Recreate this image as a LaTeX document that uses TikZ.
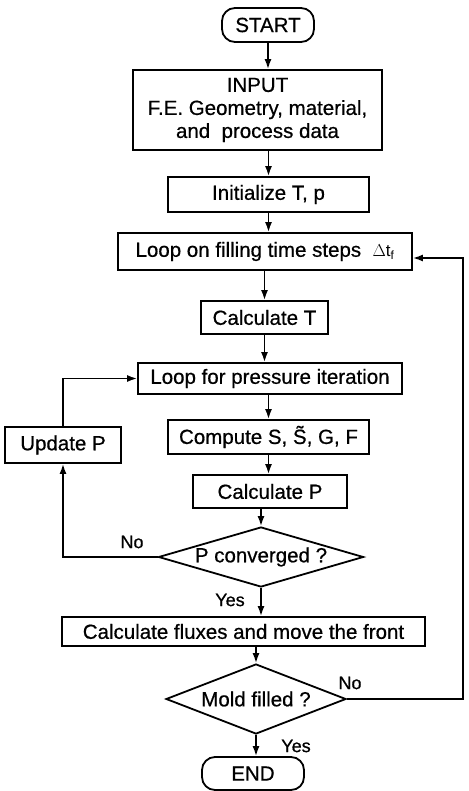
\documentclass[tikz,border=0pt]{standalone}
\usepackage{fontspec}
\setmainfont{Liberation Sans}[BoldFont=Liberation Sans, BoldFeatures={FakeBold=0.6}]
\usetikzlibrary{shapes.geometric,arrows.meta}
\begin{document}
\begin{tikzpicture}[x=1pt,y=-1pt,
  font=\fontsize{20.5}{23}\selectfont\bfseries,
  box/.style={draw, line width=1.8pt, rectangle, inner sep=0pt, align=center},
  term/.style={box, rounded corners=13pt},
  dec/.style={draw, line width=1.8pt, diamond, inner sep=0pt},
  arr/.style={line width=1.6pt, -{Latex[length=10pt,width=7pt]}},
  lab/.style={font=\fontsize{18}{20}\selectfont\bfseries, inner sep=0pt}]
\useasboundingbox (0,0) rectangle (468,791);

\node[term, minimum width=92pt, minimum height=34pt] (start) at (268,25) {START};
\node[box, minimum width=249pt, minimum height=80pt] (input) at (257.5,110)
  {INPUT\\F.E. Geometry, material,\\and\ \ process data};
\node[box, minimum width=201pt, minimum height=35pt] (init) at (268.5,194.5) {Initialize T, p};
\node[box, minimum width=294pt, minimum height=37pt] (loopt) at (265,251.5)
  {Loop on filling time steps\ \ {\fontsize{17}{17}\selectfont$\Delta\mathrm{t}_{\mathrm{f}}$}};
\node[box, minimum width=127pt, minimum height=33pt] (calct) at (264.5,317.5) {Calculate T};
\node[box, minimum width=264pt, minimum height=31pt] (loopp) at (270,378.5) {Loop for pressure iteration};
\node[box, minimum width=201pt, minimum height=34pt] (comp) at (268.5,437) {Compute S, \~{S}, G, F};
\node[box, minimum width=154pt, minimum height=33pt] (calcp) at (270,491.5) {Calculate P};
\node[dec, minimum width=205pt, minimum height=60pt, aspect=3.4] (pc) at (261,557) {P converged ?};
\node[box, minimum width=116pt, minimum height=36pt] (upd) at (63,445) {Update P};
\node[box, minimum width=363pt, minimum height=29pt] (flux) at (243.5,631.5) {Calculate fluxes and move the front};
\node[dec, minimum width=180pt, minimum height=70pt, aspect=2.6] (mold) at (256,699) {Mold filled ?};
\node[term, minimum width=102pt, minimum height=33pt] (end) at (253,773.5) {END};

\node[lab] (no1) at (132,542) {No};
\node[lab] (yes1) at (230,600) {Yes};
\node[lab] (no2) at (350,683) {No};
\node[lab] (yes2) at (296,746) {Yes};

\coordinate (c3) at (463,699);
\coordinate (c4) at (463,258);

\draw[arr] (start.south) -- (start.south |- input.north);
\draw[arr] (init.north |- input.south) -- (init.north);
\draw[arr] (init.south) -- (init.south |- loopt.north);
\draw[arr] (calct.north |- loopt.south) -- (calct.north);
\draw[arr] (calct.south) -- (calct.south |- loopp.north);
\draw[arr] (comp.north |- loopp.south) -- (comp.north);
\draw[arr] (comp.south) -- (comp.south |- calcp.north);
\draw[arr] (pc.north |- calcp.south) -- (pc.north);
\draw[arr] (pc.south) -- (pc.south |- flux.north);
\draw[arr] (mold.north |- flux.south) -- (mold.north);
\draw[arr] (mold.south) -- (mold.south |- end.north);

\draw[arr] (pc.west) -- (pc.west -| upd.south) -- (upd.south);
\draw[arr] (upd.north) |- (loopp.west);
\draw[arr] (mold.east) -- (c3) -- (c4) -- (loopt.east |- c4);
\end{tikzpicture}
\end{document}
